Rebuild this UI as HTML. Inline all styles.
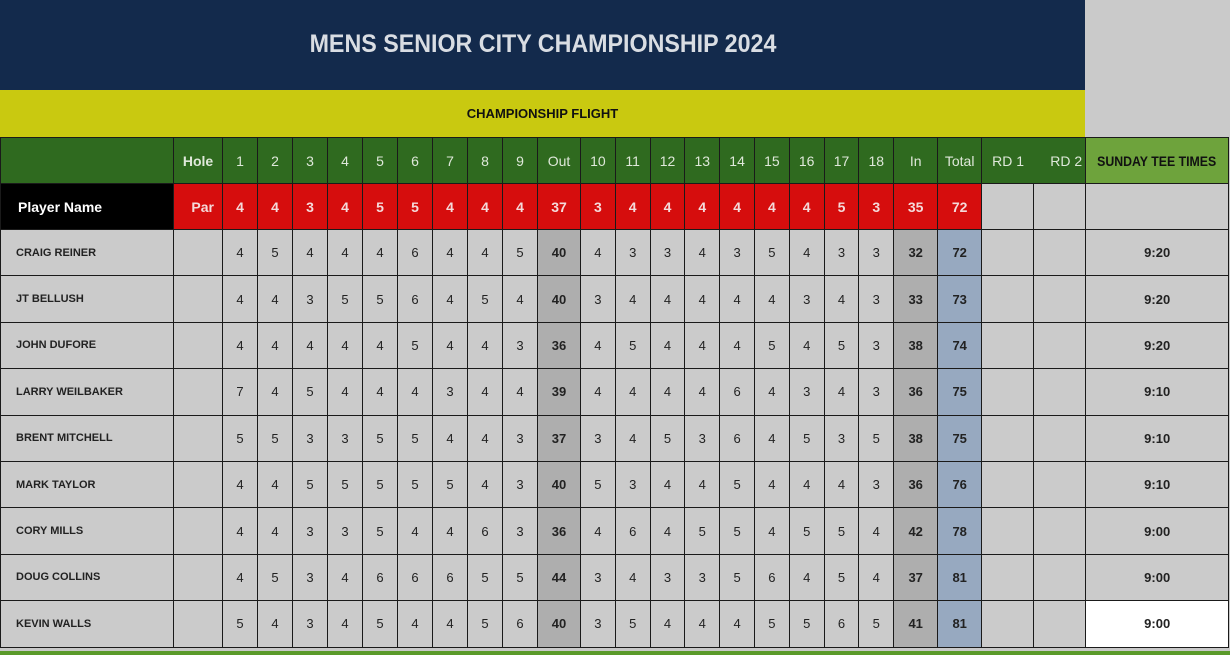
<!DOCTYPE html><html><head><style>
body{margin:0;width:1230px;height:655px;overflow:hidden;background:#c9c9c9;font-family:"Liberation Sans",sans-serif;}
.t{position:absolute;left:0;top:0;width:1085px;height:90px;background:#132a4c;color:#d9dde3;font-weight:bold;font-size:25px;line-height:88px;text-align:center}
.t span{display:inline-block;transform:scaleX(0.93)}
.y{position:absolute;left:0;top:90px;width:1085px;height:47px;background:#c9c910;color:#111;font-weight:bold;font-size:13px;line-height:47px;text-align:center}
.g{position:absolute;left:1085px;top:0;width:145px;height:137px;background:#cacaca}
table{position:absolute;left:0;top:137px;border-collapse:collapse;table-layout:fixed}
td{border:1.5px solid #1a1a1a;padding:0;text-align:center;font-size:13px;color:#222;overflow:hidden;white-space:nowrap}
tr.h td{background:#2f6a1f;color:#dfe8da;height:45px;font-size:14px}
tr.p td{background:#d60d0d;color:#f4dada;height:45px;font-weight:bold;font-size:14px}
tr.d td{background:#cbcbcb;height:45.4px}
td.n{text-align:left;padding-left:15px;font-weight:bold;font-size:11px}
tr.d td.o{background:#aeaeae;font-weight:bold}
tr.d td.tt{background:#97a9c0;font-weight:bold}
tr.d td.te{font-weight:bold}
tr.p td.e{background:#cbcbcb}
.bot{position:absolute;left:0;top:651px;width:1230px;height:4px;background:#5a9a2a}
</style></head><body>
<div class="t"><span>MENS SENIOR CITY CHAMPIONSHIP 2024</span></div>
<div class="y">CHAMPIONSHIP FLIGHT</div>
<div class="g"></div>
<table>
<colgroup><col style="width:173px"><col style="width:49px"><col span="9" style="width:35px"><col style="width:43px"><col span="9" style="width:34.8px"><col style="width:44px"><col style="width:44px"><col style="width:52px"><col style="width:52px"><col style="width:143px"></colgroup>
<tr class="h"><td style="border-right:none"></td><td style="font-weight:bold">Hole</td><td>1</td><td>2</td><td>3</td><td>4</td><td>5</td><td>6</td><td>7</td><td>8</td><td>9</td><td>Out</td><td>10</td><td>11</td><td>12</td><td>13</td><td>14</td><td>15</td><td>16</td><td>17</td><td>18</td><td>In</td><td>Total</td><td style="text-align:left;padding-left:10px;border-right:none">RD 1</td><td style="text-align:right;padding-right:3px;border-left:none">RD 2</td><td style="background:#6ea33c;color:#111;font-weight:bold;font-size:14px;overflow:visible"><span style="display:inline-block;transform:scaleX(0.88);margin:0 -10px">SUNDAY TEE TIMES</span></td></tr>
<tr class="p"><td style="background:#000;color:#fff;text-align:left;padding-left:17px">Player Name</td><td style="text-align:right;padding-right:8px">Par</td><td>4</td><td>4</td><td>3</td><td>4</td><td>5</td><td>5</td><td>4</td><td>4</td><td>4</td><td>37</td><td>3</td><td>4</td><td>4</td><td>4</td><td>4</td><td>4</td><td>4</td><td>5</td><td>3</td><td>35</td><td>72</td><td class="e"></td><td class="e"></td><td class="e"></td></tr>
<tr class="d"><td class="n">CRAIG REINER</td><td></td><td>4</td><td>5</td><td>4</td><td>4</td><td>4</td><td>6</td><td>4</td><td>4</td><td>5</td><td class="o">40</td><td>4</td><td>3</td><td>3</td><td>4</td><td>3</td><td>5</td><td>4</td><td>3</td><td>3</td><td class="o">32</td><td class="tt">72</td><td></td><td></td><td class="te">9:20</td></tr>
<tr class="d"><td class="n">JT BELLUSH</td><td></td><td>4</td><td>4</td><td>3</td><td>5</td><td>5</td><td>6</td><td>4</td><td>5</td><td>4</td><td class="o">40</td><td>3</td><td>4</td><td>4</td><td>4</td><td>4</td><td>4</td><td>3</td><td>4</td><td>3</td><td class="o">33</td><td class="tt">73</td><td></td><td></td><td class="te">9:20</td></tr>
<tr class="d"><td class="n">JOHN DUFORE</td><td></td><td>4</td><td>4</td><td>4</td><td>4</td><td>4</td><td>5</td><td>4</td><td>4</td><td>3</td><td class="o">36</td><td>4</td><td>5</td><td>4</td><td>4</td><td>4</td><td>5</td><td>4</td><td>5</td><td>3</td><td class="o">38</td><td class="tt">74</td><td></td><td></td><td class="te">9:20</td></tr>
<tr class="d"><td class="n">LARRY WEILBAKER</td><td></td><td>7</td><td>4</td><td>5</td><td>4</td><td>4</td><td>4</td><td>3</td><td>4</td><td>4</td><td class="o">39</td><td>4</td><td>4</td><td>4</td><td>4</td><td>6</td><td>4</td><td>3</td><td>4</td><td>3</td><td class="o">36</td><td class="tt">75</td><td></td><td></td><td class="te">9:10</td></tr>
<tr class="d"><td class="n">BRENT MITCHELL</td><td></td><td>5</td><td>5</td><td>3</td><td>3</td><td>5</td><td>5</td><td>4</td><td>4</td><td>3</td><td class="o">37</td><td>3</td><td>4</td><td>5</td><td>3</td><td>6</td><td>4</td><td>5</td><td>3</td><td>5</td><td class="o">38</td><td class="tt">75</td><td></td><td></td><td class="te">9:10</td></tr>
<tr class="d"><td class="n">MARK TAYLOR</td><td></td><td>4</td><td>4</td><td>5</td><td>5</td><td>5</td><td>5</td><td>5</td><td>4</td><td>3</td><td class="o">40</td><td>5</td><td>3</td><td>4</td><td>4</td><td>5</td><td>4</td><td>4</td><td>4</td><td>3</td><td class="o">36</td><td class="tt">76</td><td></td><td></td><td class="te">9:10</td></tr>
<tr class="d"><td class="n">CORY MILLS</td><td></td><td>4</td><td>4</td><td>3</td><td>3</td><td>5</td><td>4</td><td>4</td><td>6</td><td>3</td><td class="o">36</td><td>4</td><td>6</td><td>4</td><td>5</td><td>5</td><td>4</td><td>5</td><td>5</td><td>4</td><td class="o">42</td><td class="tt">78</td><td></td><td></td><td class="te">9:00</td></tr>
<tr class="d"><td class="n">DOUG COLLINS</td><td></td><td>4</td><td>5</td><td>3</td><td>4</td><td>6</td><td>6</td><td>6</td><td>5</td><td>5</td><td class="o">44</td><td>3</td><td>4</td><td>3</td><td>3</td><td>5</td><td>6</td><td>4</td><td>5</td><td>4</td><td class="o">37</td><td class="tt">81</td><td></td><td></td><td class="te">9:00</td></tr>
<tr class="d"><td class="n">KEVIN WALLS</td><td></td><td>5</td><td>4</td><td>3</td><td>4</td><td>5</td><td>4</td><td>4</td><td>5</td><td>6</td><td class="o">40</td><td>3</td><td>5</td><td>4</td><td>4</td><td>4</td><td>5</td><td>5</td><td>6</td><td>5</td><td class="o">41</td><td class="tt">81</td><td></td><td></td><td class="te" style="background:#fff">9:00</td></tr>
</table>
<div class="bot"></div>
</body></html>
